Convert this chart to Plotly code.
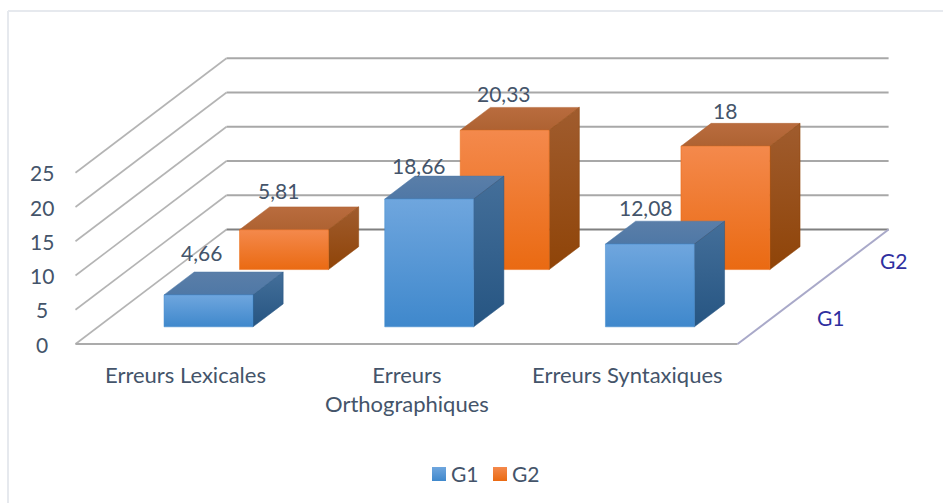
import plotly.graph_objects as go

CATEGORIES = ['Erreurs Lexicales', 'Erreurs<br>Orthographiques', 'Erreurs Syntaxiques']
SERIES = ['G1', 'G2']
G1_VALUES = [4.66, 18.66, 12.08]
G2_VALUES = [5.81, 20.33, 18]
G1_LABELS = ['4,66', '18,66', '12,08']
G2_LABELS = ['5,81', '20,33', '18']
Y_TICKS = [0, 5, 10, 15, 20, 25]

# oblique projection of the excel 3d chart, in page pixels
ORIGIN_X, ORIGIN_Y = 75.5, 344
CAT_W = 220.7
DEPTH_X, DEPTH_Y = 151, -114.5
VAL_H = 6.85
BAR_W = 0.403
BAR_D = 0.2

TEXT_COLOR = '#44546A'
DEPTH_COLOR = '#2F2F9F'
FONT = 'Lato'
FONT_SIZE = 22
NUM_SIZE = 21

# gradient colours run bottom to top on the flipped y axis
BLUE = dict(front=['#3F88CC', '#6FA6DE'], top=['#4F78A6', '#5A7EA8'], side=['#265582', '#446F9A'])
ORANGE = dict(front=['#EA6A12', '#F4894C'], top=['#AE6232', '#B96C3E'], side=['#8F4408', '#A05C2E'])

LABEL_NUDGE = {
    (0, 0): (-2, -5), (0, 1): (-1, -2),
    (1, 0): (-5.5, 3.5), (1, 1): (4.5, 0.5),
    (2, 0): (0.5, 0.5), (2, 1): (4.5, 1.5),
}
SERIES_OFFSET = [(56, 2), (43, 2)]


def project(c, d, v):
    return ORIGIN_X + CAT_W * c + DEPTH_X * d, ORIGIN_Y - VAL_H * v + DEPTH_Y * d


def face(fig, corners, colors):
    pts = [project(*p) for p in corners]
    xs = [p[0] for p in pts] + [pts[0][0]]
    ys = [p[1] for p in pts] + [pts[0][1]]
    fig.add_trace(go.Scatter(
        x=xs, y=ys, mode='lines', fill='toself',
        line=dict(width=0.5, color=colors[0]),
        fillgradient=dict(type='vertical', colorscale=[[0, colors[0]], [1, colors[1]]]),
        hoverinfo='skip', showlegend=False
    ))


def add_bar(fig, c, depth_c, value, style):
    c0 = c + (1 - BAR_W) / 2
    c1 = c0 + BAR_W
    d0 = depth_c - BAR_D / 2
    d1 = d0 + BAR_D
    face(fig, [(c0, d0, value), (c1, d0, value), (c1, d1, value), (c0, d1, value)], style['top'])
    face(fig, [(c1, d0, value), (c1, d1, value), (c1, d1, 0), (c1, d0, 0)], style['side'])
    face(fig, [(c0, d0, value), (c1, d0, value), (c1, d0, 0), (c0, d0, 0)], style['front'])


def add_line(fig, a, b, color, width=1.6):
    pa, pb = project(*a), project(*b)
    fig.add_trace(go.Scatter(
        x=[pa[0], pb[0]], y=[pa[1], pb[1]], mode='lines',
        line=dict(color=color, width=width), hoverinfo='skip', showlegend=False
    ))


def add_text(fig, x, y, text, color=TEXT_COLOR, size=FONT_SIZE):
    fig.add_annotation(
        x=x, y=y, text=text, showarrow=False, align='center',
        font=dict(family=FONT, size=size, color=color)
    )


fig = go.Figure()
n_cats = len(CATEGORIES)

# walls
for t in Y_TICKS:
    add_line(fig, (0, 0, t), (0, 1, t), '#B4B4B4')
    add_line(fig, (0, 1, t), (n_cats, 1, t), '#808080' if t == 0 else '#A8A8A8', 2)
    x, y = project(0, 0, t)
    add_text(fig, x - 34, y, str(t), size=NUM_SIZE)

# floor
add_line(fig, (0, 0, 0), (n_cats, 0, 0), '#ABABAB', 2)
add_line(fig, (n_cats, 0, 0), (n_cats, 1, 0), '#A9A9C9', 2)

# back row first so the front row covers it
rows = [(1, G2_VALUES, G2_LABELS, ORANGE), (0, G1_VALUES, G1_LABELS, BLUE)]
for s, values, labels, style in rows:
    depth_c = 0.25 + 0.5 * s
    for c, v in enumerate(values):
        add_bar(fig, c, depth_c, v, style)

for s, values, labels, style in rows:
    depth_c = 0.25 + 0.5 * s
    for c, v in enumerate(values):
        x, y = project(c + 0.5, depth_c, v)
        nx, ny = LABEL_NUDGE[(c, s)]
        add_text(fig, x - 20 + nx, y - 26 + ny, labels[c], size=NUM_SIZE)

# category labels
for c, name in enumerate(CATEGORIES):
    x, y = project(c + 0.5, 0, 0)
    add_text(fig, x, y + (45 if '<br>' in name else 30), name)

# series labels along the depth axis
for s, name in enumerate(SERIES):
    x, y = project(n_cats, 0.25 + 0.5 * s, 0)
    add_text(fig, x + SERIES_OFFSET[s][0], y + SERIES_OFFSET[s][1], name, DEPTH_COLOR, NUM_SIZE)

# legend
for name, lx, colors in [(SERIES[0], 439, BLUE['front']), (SERIES[1], 500, ORANGE['front'])]:
    fig.add_trace(go.Scatter(
        x=[lx], y=[474], mode='markers',
        marker=dict(symbol='square', size=14, color=colors[1], line=dict(width=0),
                    gradient=dict(type='vertical', color=colors[0])),
        hoverinfo='skip', showlegend=False
    ))
    add_text(fig, lx + 26, 473, name, size=NUM_SIZE)

fig.update_layout(
    width=943, height=503,
    margin=dict(l=0, r=0, t=0, b=0),
    paper_bgcolor='white', plot_bgcolor='white',
    xaxis=dict(range=[0, 943], visible=False, fixedrange=True),
    yaxis=dict(range=[503, 0], visible=False, fixedrange=True),
    showlegend=False,
    shapes=[dict(type='line', xref='x', yref='y', x0=8, y0=11, x1=8, y1=503,
                 line=dict(color='#E6E9EE', width=2), layer='below'),
            dict(type='line', xref='x', yref='y', x0=8, y0=11, x1=943, y1=11,
                 line=dict(color='#E6E9EE', width=2), layer='below')]
)
fig.write_html('out.html', config=dict(displayModeBar=False), post_script="document.body.style.margin='0';")
